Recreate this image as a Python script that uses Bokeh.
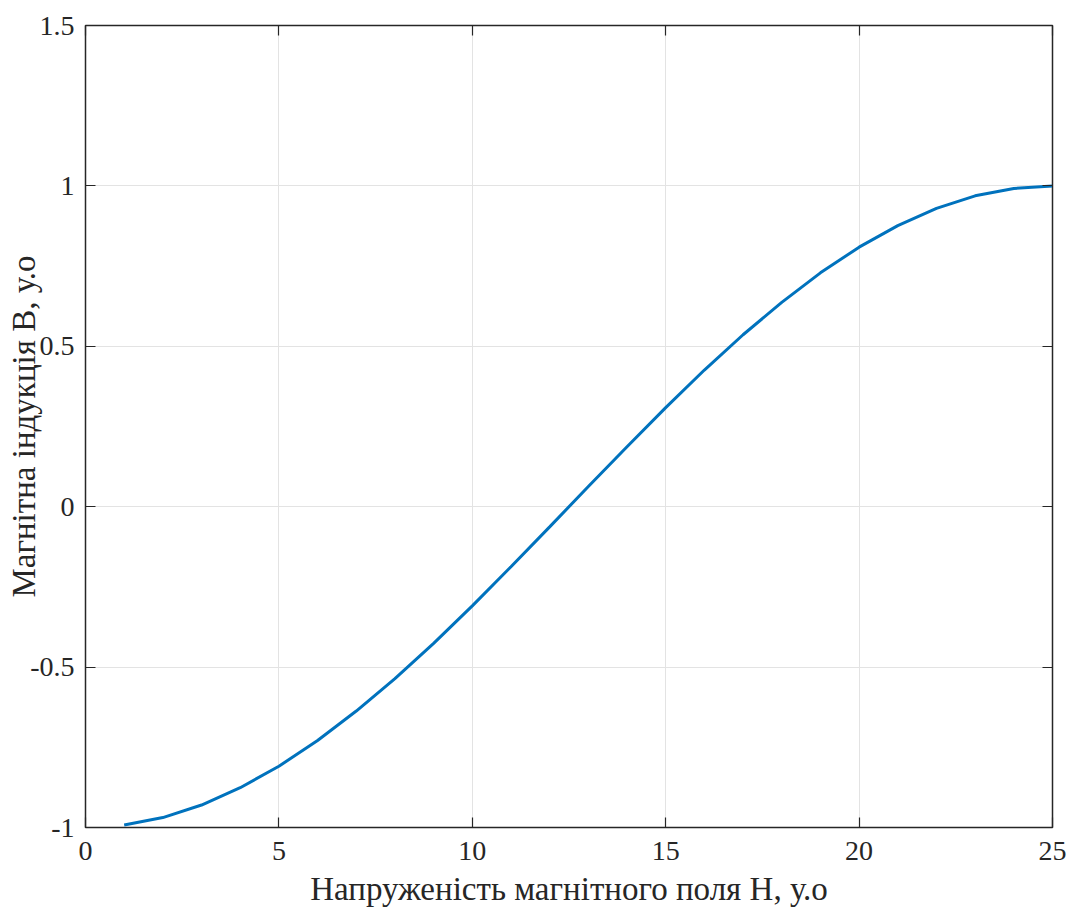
from bokeh.plotting import figure
from bokeh.models import LinearAxis, FixedTicker, Range1d
from bokeh.embed import file_html
from bokeh.resources import INLINE

H = [1, 2, 3, 4, 5, 6, 7, 8, 9, 10, 11, 12, 13, 14, 15, 16, 17, 18, 19, 20, 21, 22, 23, 24, 25]
B = [-0.992, -0.969, -0.930, -0.876, -0.809, -0.729, -0.637, -0.536, -0.426, -0.309,
     -0.187, -0.063, 0.063, 0.187, 0.309, 0.426, 0.536, 0.637, 0.729, 0.809,
     0.876, 0.930, 0.969, 0.992, 1.000]
x_ticks = [0, 5, 10, 15, 20, 25]
y_ticks = [-1, -0.5, 0, 0.5, 1, 1.5]
x_label = "Напруженість магнітного поля Н, у.о"
y_label = "Магнітна індукція В, у.о"

FONT = "Liberation Serif"
FS = "28px"
LFS = "33px"

p = figure(width=1068, height=909, output_backend="svg", toolbar_location=None,
           x_range=Range1d(0, 25), y_range=Range1d(-1, 1.5),
           min_border_left=85, min_border_right=16, min_border_top=25, min_border_bottom=82,
           x_axis_location=None, y_axis_location=None)
p.outline_line_color = "#262626"
p.outline_line_width = 1.5
p.background_fill_color = "white"
p.border_fill_color = "white"

def style(ax, ticks, labels=True):
    ax.ticker = FixedTicker(ticks=ticks)
    ax.major_tick_in = 10
    ax.major_tick_out = 0
    ax.minor_tick_in = 0
    ax.minor_tick_out = 0
    ax.major_tick_line_color = "#262626"
    ax.major_tick_line_width = 1.2
    ax.axis_line_color = "#262626"
    ax.major_label_text_font = FONT
    ax.major_label_text_font_size = FS
    ax.major_label_text_color = "#262626"
    if not labels:
        ax.major_label_text_font_size = "0px"
        ax.major_label_text_alpha = 0

bx = LinearAxis()
tx = LinearAxis()
ly = LinearAxis()
ry = LinearAxis()
style(bx, x_ticks)
style(tx, x_ticks, False)
style(ly, y_ticks)
style(ry, y_ticks, False)
bx.major_label_standoff = 14
ly.major_label_standoff = 11
tx.major_label_standoff = 0
ry.major_label_standoff = 0

bx.major_label_overrides = {0: "0", 5: "5", 10: "10", 15: "15", 20: "20", 25: "25"}
ly.major_label_overrides = {-1: "-1", -0.5: "-0.5", 0: "0", 0.5: "0.5", 1: "1", 1.5: "1.5"}
bx.axis_label = x_label
bx.axis_label_text_font = FONT
bx.axis_label_text_font_size = LFS
bx.axis_label_text_font_style = "normal"
bx.axis_label_text_color = "#262626"
bx.axis_label_standoff = 8
ly.axis_label = y_label
ly.axis_label_text_font = FONT
ly.axis_label_text_font_size = LFS
ly.axis_label_text_font_style = "normal"
ly.axis_label_text_color = "#262626"
ly.axis_label_standoff = -15

p.add_layout(bx, "below")
p.add_layout(ly, "left")
p.add_layout(tx, "above")
p.add_layout(ry, "right")

p.xgrid.ticker = FixedTicker(ticks=x_ticks)
p.ygrid.ticker = FixedTicker(ticks=y_ticks)
for g in (p.xgrid, p.ygrid):
    g.grid_line_color = "#e3e3e3"
    g.grid_line_width = 1

p.line(H, B, line_color="#0072BD", line_width=3)

open("out.html", "w").write(file_html(p, INLINE))
